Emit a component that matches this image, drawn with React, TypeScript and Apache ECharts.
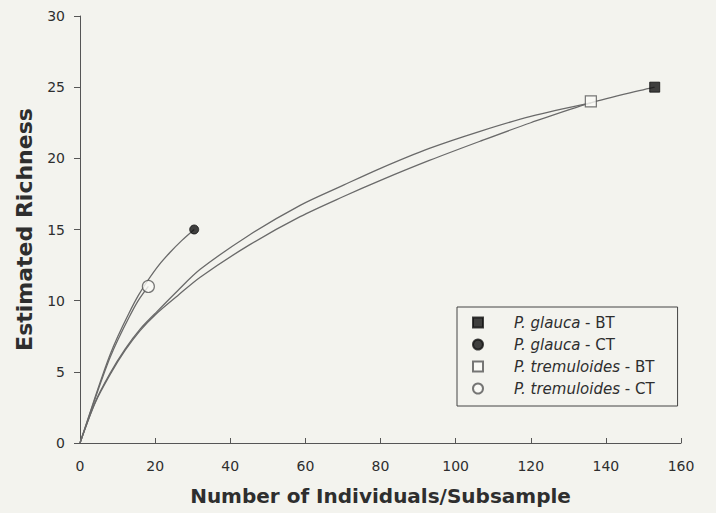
import React, { useEffect, useRef } from "react";
import * as echarts from "echarts";

// Rarefaction curves: [individuals, estimated richness]
const glaucaBTCurve: number[][] = [
  [0, 0], [4, 2.8], [8, 4.8], [12, 6.5], [16, 7.9], [20, 9.0], [26, 10.35], [32, 11.65],
  [45, 13.9], [58.6, 15.9], [70, 17.3], [80, 18.45], [93, 19.85], [106.5, 21.2], [120, 22.5], [136, 23.9], [153, 25],
];
const tremuloidesBTCurve: number[][] = [
  [0, 0], [4, 2.85], [8, 4.9], [12, 6.6], [16, 8.0], [20, 9.1], [26, 10.7], [32, 12.2],
  [45, 14.6], [58.6, 16.7], [70, 18.1], [80, 19.3], [93, 20.7], [106.5, 21.9], [120, 22.95], [136, 23.9],
];
const glaucaCTCurve: number[][] = [
  [0, 0], [4, 3.2], [6, 4.75], [8, 6.2], [10, 7.45], [13, 9.1], [15.5, 10.35], [18, 11.4],
  [21, 12.5], [24, 13.4], [27, 14.2], [30.4, 15],
];
const tremuloidesCTCurve: number[][] = [
  [0, 0], [4, 3.1], [6, 4.6], [8, 6.0], [10, 7.2], [13, 8.8], [15.5, 10.0], [18.2, 11.0],
];

const glaucaBTEnd = [153, 25];
const glaucaCTEnd = [30.4, 15];
const tremuloidesBTEnd = [136, 24];
const tremuloidesCTEnd = [18.2, 11];

const legendNames = [
  "P. glauca - BT",
  "P. glauca - CT",
  "P. tremuloides - BT",
  "P. tremuloides - CT",
];

const xTickInterval = 20;
const yTickInterval = 5;

const BG = "#f3f3ee";
const FONT = "'DejaVu Sans', 'Liberation Sans', Arial, sans-serif";
const TXT = "#2e2e2e";

export default function App() {
  const ref = useRef<HTMLDivElement>(null);

  useEffect(() => {
    if (!ref.current) return;
    const chart = echarts.init(ref.current, null, { renderer: "svg" });
    const lineStyle = { color: "#6a6a6a", width: 1.3 };
    const lineSeries = (name: string, data: number[][]) => ({
      name,
      type: "line",
      data,
      smooth: 0.3,
      showSymbol: false,
      symbol: "none",
      lineStyle,
      silent: true,
      z: 2,
    });
    chart.setOption({
      animation: false,
      backgroundColor: BG,
      textStyle: { fontFamily: FONT },
      grid: { left: 80, right: 35, top: 16, bottom: 70 },
      xAxis: {
        type: "value",
        min: 0,
        max: 160,
        interval: xTickInterval,
        name: "Number of Individuals/Subsample",
        nameLocation: "middle",
        nameGap: 43,
        nameTextStyle: { fontSize: 20, fontWeight: "bold", color: TXT, fontFamily: FONT },
        axisLine: { lineStyle: { color: "#555", width: 1 } },
        axisTick: { inside: true, length: 5, lineStyle: { color: "#555" } },
        axisLabel: { color: TXT, fontSize: 14, margin: 16, fontFamily: FONT },
        splitLine: { show: false },
      },
      yAxis: {
        type: "value",
        min: 0,
        max: 30,
        interval: yTickInterval,
        name: "Estimated Richness",
        nameLocation: "middle",
        nameGap: 45,
        nameTextStyle: { fontSize: 22, fontWeight: "bold", color: TXT, fontFamily: FONT },
        axisLine: { show: true, lineStyle: { color: "#555", width: 1 } },
        axisTick: { show: true, inside: false, length: 6, lineStyle: { color: "#555" } },
        axisLabel: { color: TXT, fontSize: 14, margin: 15, fontFamily: FONT },
        splitLine: { show: false },
      },
      legend: {
        data: legendNames,
        orient: "vertical",
        left: 457,
        top: 307,
        padding: [8, 23, 10, 15],
        itemWidth: 10,
        itemHeight: 10,
        itemGap: 7,
        borderColor: "#444",
        borderWidth: 1,
        backgroundColor: BG,
        textStyle: {
          fontSize: 15,
          color: TXT,
          fontFamily: FONT,
          padding: [0, 0, 0, 26],
          rich: {
            i: { fontStyle: "italic", fontSize: 15, lineHeight: 16, color: TXT, fontFamily: FONT },
            n: { fontSize: 15, lineHeight: 16, color: TXT, fontFamily: FONT },
          },
        },
        formatter: (name: string) => {
          const parts = name.split(" - ");
          return `{i|${parts[0]}}{n| - ${parts[1]}}`;
        },
      },
      series: [
        lineSeries("gBT", glaucaBTCurve),
        lineSeries("tBT", tremuloidesBTCurve),
        lineSeries("gCT", glaucaCTCurve),
        lineSeries("tCT", tremuloidesCTCurve),
        {
          name: legendNames[0],
          type: "scatter",
          data: [glaucaBTEnd],
          symbol: "rect",
          symbolSize: 10,
          itemStyle: { color: "#111", borderColor: "#111", borderWidth: 1 },
          z: 5,
        },
        {
          name: legendNames[1],
          type: "scatter",
          data: [glaucaCTEnd],
          symbol: "circle",
          symbolSize: 9,
          itemStyle: { color: "#111", borderColor: "#111", borderWidth: 1 },
          z: 5,
        },
        {
          name: legendNames[2],
          type: "scatter",
          data: [tremuloidesBTEnd],
          symbol: "rect",
          symbolSize: 11,
          itemStyle: { color: "#fafaf6", borderColor: "#555", borderWidth: 1.2 },
          z: 5,
        },
        {
          name: legendNames[3],
          type: "scatter",
          data: [tremuloidesCTEnd],
          symbol: "circle",
          symbolSize: 12,
          itemStyle: { color: "#fafaf6", borderColor: "#555", borderWidth: 1.2 },
          z: 5,
        },
      ],
    });
    return () => chart.dispose();
  }, []);

  return (
    <div
      ref={ref}
      style={{ position: "absolute", left: 0, top: 0, width: 716, height: 513 }}
    />
  );
}
